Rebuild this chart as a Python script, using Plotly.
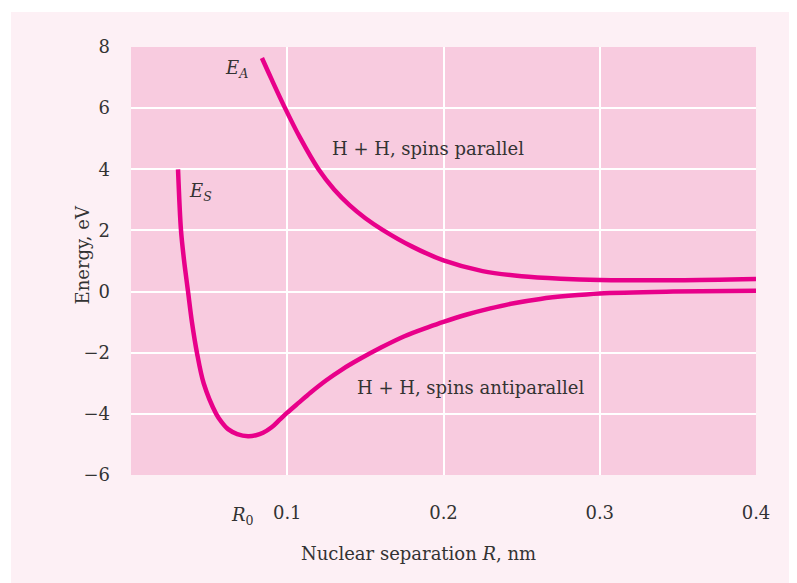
import plotly.graph_objects as go

# Symmetric state E_S (spins antiparallel)
r_s = [0.0301, 0.0320, 0.0340, 0.0365, 0.0390, 0.0422, 0.0465, 0.0545, 0.0580, 0.0621,
       0.0680, 0.0749, 0.0800, 0.0845, 0.0900, 0.0950, 0.0998, 0.1070, 0.1150, 0.1250,
       0.1350, 0.1466, 0.1600, 0.1750, 0.1900, 0.2000, 0.2150, 0.2300, 0.2450, 0.2620,
       0.2800, 0.3000, 0.3470, 0.4000]
e_s = [4.00, 2.00, 1.00, 0.00, -1.00, -2.00, -3.00, -4.00, -4.27, -4.50,
       -4.66, -4.73, -4.70, -4.62, -4.44, -4.20, -3.97, -3.65, -3.30, -2.90,
       -2.55, -2.20, -1.83, -1.46, -1.17, -0.99, -0.75, -0.55, -0.38, -0.24,
       -0.14, -0.06, 0.00, 0.03]

# Antisymmetric state E_A (spins parallel)
r_a = [0.0838, 0.0900, 0.0986, 0.1080, 0.1200, 0.1300, 0.1400, 0.1500, 0.1610, 0.1800,
       0.2000, 0.2250, 0.2500, 0.2750, 0.3000, 0.3500, 0.4000]
e_a = [7.64, 6.94, 6.00, 5.05, 4.00, 3.34, 2.82, 2.40, 2.02, 1.47,
       1.02, 0.67, 0.50, 0.42, 0.38, 0.37, 0.41]

x_ticks = [0.1, 0.2, 0.3, 0.4]
x_tick_text = ["0.1", "0.2", "0.3", "0.4"]
y_ticks = [-6, -4, -2, 0, 2, 4, 6, 8]
y_tick_text = ["\u22126", "\u22124", "\u22122", "0", "2", "4", "6", "8"]

MAGENTA = "#e8008a"
FONT = "DejaVu Serif"
TXT = "#333333"

fig = go.Figure()
fig.add_trace(go.Scatter(x=r_s, y=e_s, mode="lines",
                         line=dict(color=MAGENTA, width=4.5, shape="spline", smoothing=0.9),
                         hoverinfo="skip", showlegend=False))
fig.add_trace(go.Scatter(x=r_a, y=e_a, mode="lines",
                         line=dict(color=MAGENTA, width=4.5, shape="spline", smoothing=0.9),
                         hoverinfo="skip", showlegend=False))

annotations = [
    dict(x=0.0678, y=7.28, xref="x", yref="y", text="<i>E</i><sub><i>A</i></sub>",
         showarrow=False, font=dict(size=18, family=FONT, color=TXT)),
    dict(x=0.0445, y=3.26, xref="x", yref="y", text="<i>E</i><sub><i>S</i></sub>",
         showarrow=False, font=dict(size=18, family=FONT, color=TXT)),
    dict(x=0.190, y=4.69, xref="x", yref="y", text="H + H, spins parallel",
         showarrow=False, font=dict(size=18, family=FONT, color=TXT)),
    dict(x=0.2176, y=-3.15, xref="x", yref="y", text="H + H, spins antiparallel",
         showarrow=False, font=dict(size=18, family=FONT, color=TXT)),
    dict(x=0.0715, y=0, xref="x", yref="paper", yanchor="top", yshift=-27,
         text="<i>R</i><sub>0</sub>", showarrow=False,
         font=dict(size=18, family=FONT, color=TXT)),
    dict(x=0.184, y=0, xref="x", yref="paper", yanchor="top", yshift=-66,
         text="Nuclear separation <i>R</i>, nm", showarrow=False,
         font=dict(size=18, family=FONT, color=TXT)),
    dict(x=-0.097, y=0.515, xref="paper", yref="paper", textangle=-90,
         text="Energy, eV", showarrow=False,
         font=dict(size=18, family=FONT, color=TXT)),
]

fig.update_layout(
    width=789, height=575,
    margin=dict(l=123, r=41, t=39, b=108),
    paper_bgcolor="#fdf0f5",
    plot_bgcolor="#f8cbdf",
    font=dict(family=FONT, size=18, color=TXT),
    annotations=annotations,
    shapes=[
        dict(type="rect", xref="paper", yref="paper", x0=-0.3, x1=2, y0=1.0 + 35.0 / 428, y1=1.2,
             fillcolor="white", line=dict(width=0), layer="below"),
        dict(type="rect", xref="paper", yref="paper", x0=-0.3, x1=-120.0 / 625, y0=-0.5, y1=1.2,
             fillcolor="white", line=dict(width=0), layer="below"),
    ],
)
fig.update_xaxes(range=[0, 0.4], tickvals=x_ticks, ticktext=x_tick_text,
                 showgrid=True, gridcolor="white", gridwidth=2, zeroline=False,
                 showline=False, ticks="", ticklabelstandoff=25)
fig.update_yaxes(range=[-6, 8], tickvals=y_ticks, ticktext=y_tick_text,
                 showgrid=True, gridcolor="white", gridwidth=2, zeroline=False,
                 showline=False, ticks="", ticklabelstandoff=20)

fig.write_html("out.html")
